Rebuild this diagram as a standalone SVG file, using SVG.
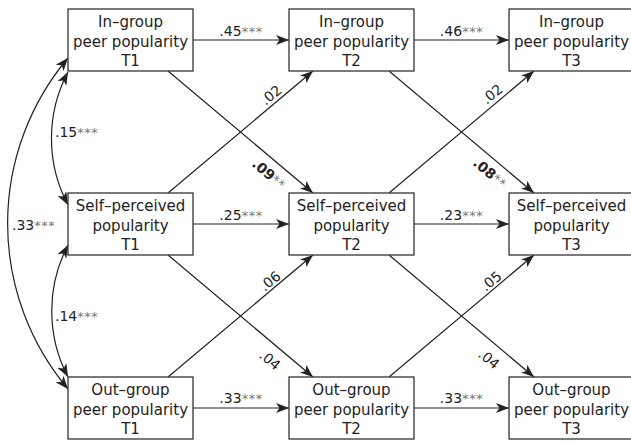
<svg xmlns="http://www.w3.org/2000/svg" width="631" height="442" viewBox="0 0 631 442">
<style>
.box{fill:#fff;stroke:#333;stroke-width:1.3}
.nt{font-family:"DejaVu Sans",sans-serif;font-size:15px;fill:#222;text-anchor:middle}
.ln{fill:none;stroke:#222;stroke-width:1.2;marker-end:url(#ah)}
.cv{fill:none;stroke:#222;stroke-width:1.2;marker-end:url(#ah);marker-start:url(#ah)}
.lb{font-family:"DejaVu Sans",sans-serif;font-size:14px;fill:#222}
.st{font-size:13px;fill:#777;letter-spacing:0.5px}
.bd{font-weight:bold}
</style>
<defs>
<marker id="ah" viewBox="0 0 13 10" refX="13" refY="5" markerWidth="13" markerHeight="10" markerUnits="userSpaceOnUse" orient="auto-start-reverse">
<path d="M0,0 L13,5 L0,10 L3.5,5 Z" fill="#222"/>
</marker>
</defs>
<rect width="631" height="442" fill="#fff"/>
<g id="connectors">
<path class="ln" d="M193,40 H289"/>
<path class="ln" d="M193,224 H289"/>
<path class="ln" d="M193,408 H289"/>
<path class="ln" d="M414,40 H509"/>
<path class="ln" d="M414,224 H509"/>
<path class="ln" d="M414,408 H509"/>
<path class="ln" d="M168,71 L313,193"/>
<path class="ln" d="M168,193 L313,71"/>
<path class="ln" d="M168,255 L313,377"/>
<path class="ln" d="M168,377 L313,255"/>
<path class="ln" d="M389,71 L534,193"/>
<path class="ln" d="M389,193 L534,71"/>
<path class="ln" d="M389,255 L534,377"/>
<path class="ln" d="M389,377 L534,255"/>
<path class="cv" d="M68,72 A142,142 0 0,0 68,205"/>
<path class="cv" d="M68,245 A142,142 0 0,0 68,377"/>
<path class="cv" d="M68,58 A257,257 0 0,0 68,389"/>
<text class="lb" x="241" y="35.5" text-anchor="middle">.45<tspan class="st">***</tspan></text>
<text class="lb" x="461.5" y="35.5" text-anchor="middle">.46<tspan class="st">***</tspan></text>
<text class="lb" x="241" y="219.5" text-anchor="middle">.25<tspan class="st">***</tspan></text>
<text class="lb" x="461.5" y="219.5" text-anchor="middle">.23<tspan class="st">***</tspan></text>
<text class="lb" x="241" y="403" text-anchor="middle">.33<tspan class="st">***</tspan></text>
<text class="lb" x="461.5" y="403" text-anchor="middle">.33<tspan class="st">***</tspan></text>
<text class="lb" x="55" y="137">.15<tspan class="st">***</tspan></text>
<text class="lb" x="12" y="230">.33<tspan class="st">***</tspan></text>
<text class="lb" x="55" y="321">.14<tspan class="st">***</tspan></text>
<text class="lb" text-anchor="middle" transform="translate(271,95) rotate(-40)" y="5">.02</text>
<text class="lb" text-anchor="middle" transform="translate(492,94) rotate(-40)" y="5">.02</text>
<text class="lb" text-anchor="middle" transform="translate(269,174) rotate(40)" y="5"><tspan class="bd">.09</tspan><tspan class="st">**</tspan></text>
<text class="lb" text-anchor="middle" transform="translate(490,173) rotate(40)" y="5"><tspan class="bd">.08</tspan><tspan class="st">**</tspan></text>
<text class="lb" text-anchor="middle" transform="translate(270,281) rotate(-40)" y="5">.06</text>
<text class="lb" text-anchor="middle" transform="translate(491,281) rotate(-40)" y="5">.05</text>
<text class="lb" text-anchor="middle" transform="translate(270,360) rotate(40)" y="5">.04</text>
<text class="lb" text-anchor="middle" transform="translate(489,359) rotate(40)" y="5">.04</text>
</g>
<g id="in1"><rect class="box" x="68" y="9" width="125" height="62"/><text class="nt" x="130.5" y="27.2">In–group</text><text class="nt" x="130.5" y="46.5">peer popularity</text><text class="nt" x="130.5" y="65.5">T1</text></g>
<g id="in2"><rect class="box" x="289" y="9" width="125" height="62"/><text class="nt" x="351.5" y="27.2">In–group</text><text class="nt" x="351.5" y="46.5">peer popularity</text><text class="nt" x="351.5" y="65.5">T2</text></g>
<g id="in3"><rect class="box" x="509" y="9" width="125" height="62"/><text class="nt" x="571.5" y="27.2">In–group</text><text class="nt" x="571.5" y="46.5">peer popularity</text><text class="nt" x="571.5" y="65.5">T3</text></g>
<g id="self1"><rect class="box" x="68" y="193" width="125" height="62"/><text class="nt" x="130.5" y="211.2">Self–perceived</text><text class="nt" x="130.5" y="230.5">popularity</text><text class="nt" x="130.5" y="249.5">T1</text></g>
<g id="self2"><rect class="box" x="289" y="193" width="125" height="62"/><text class="nt" x="351.5" y="211.2">Self–perceived</text><text class="nt" x="351.5" y="230.5">popularity</text><text class="nt" x="351.5" y="249.5">T2</text></g>
<g id="self3"><rect class="box" x="509" y="193" width="125" height="62"/><text class="nt" x="571.5" y="211.2">Self–perceived</text><text class="nt" x="571.5" y="230.5">popularity</text><text class="nt" x="571.5" y="249.5">T3</text></g>
<g id="out1"><rect class="box" x="68" y="377" width="125" height="62"/><text class="nt" x="130.5" y="395.2">Out–group</text><text class="nt" x="130.5" y="414.5">peer popularity</text><text class="nt" x="130.5" y="433.5">T1</text></g>
<g id="out2"><rect class="box" x="289" y="377" width="125" height="62"/><text class="nt" x="351.5" y="395.2">Out–group</text><text class="nt" x="351.5" y="414.5">peer popularity</text><text class="nt" x="351.5" y="433.5">T2</text></g>
<g id="out3"><rect class="box" x="509" y="377" width="125" height="62"/><text class="nt" x="571.5" y="395.2">Out–group</text><text class="nt" x="571.5" y="414.5">peer popularity</text><text class="nt" x="571.5" y="433.5">T3</text></g>
</svg>
